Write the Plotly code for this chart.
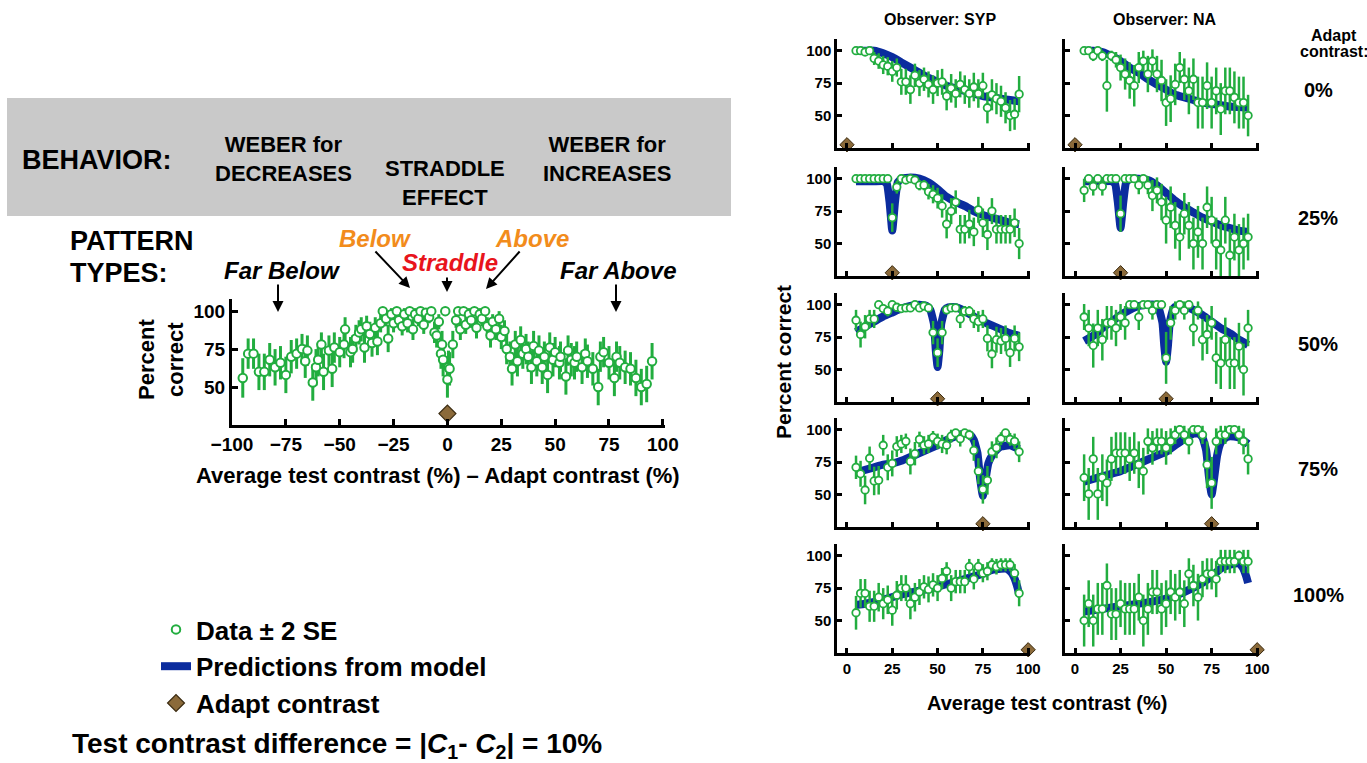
import plotly.graph_objects as go

W, H = 1367, 763
GREEN = '#22ad3f'
BLUE = '#0b2c9e'
BROWN = '#8b6a3a'
FONT = 'Liberation Sans'

# ---------------- main panel data (test - adapt contrast) ----------------
main_x = [-95, -92.5, -90, -87.5, -85, -82.5, -80, -77.5, -75, -72.5, -70, -67.5, -66, -65, -62.5, -61, -60,
          -58.5, -57.5, -55, -53.5, -52.5, -50, -48, -47.5, -45, -44, -42.5, -41, -40, -38.5, -37.5, -36, -35,
          -33.5, -32.5, -31, -30, -28.5, -27.5, -26, -25, -23.5, -22.5, -21, -20, -18.5, -17.5, -16, -15, -13.5,
          -12.5, -11, -10, -8.5, -7.5, -6, -5, -4, -3, -2.5, -2, -1, 0, 0.5, 1, 2.5, 4, 5, 6, 7.5, 8.5, 10, 11,
          12.5, 13.5, 15, 16, 17.5, 18.5, 20, 21, 22.5, 24, 25, 26.5, 27.5, 29, 30, 31.5, 32.5, 34, 35, 36.5,
          37.5, 39, 40, 41.5, 42.5, 44, 45, 46.5, 47.5, 49, 50, 52, 52.5, 55, 56, 57.5, 59, 60, 62.5, 64, 65,
          67.5, 70, 71, 72.5, 75, 77.5, 78.5, 80, 82.5, 85, 87.5, 90, 92.5, 95]
main_y = [56, 72, 72, 60, 60, 68, 63, 66, 58, 70, 72, 75, 67, 74, 53, 63, 68,
          78, 60, 74, 62, 76, 73, 78, 88, 73, 75, 82, 86, 88, 76, 90, 85, 79,
          89, 80, 92, 100, 95, 82, 98, 92, 100, 94, 90, 98, 92, 100, 88, 98, 95,
          100, 91, 99, 96, 100, 86, 84, 93, 72, 78, 68, 100, 55, 63, 62, 78, 94, 100, 88, 100, 91, 98, 94,
          100, 89, 98, 95, 100, 90, 84, 93, 88, 95, 83, 87, 75, 70, 62, 78, 67, 81, 72, 75,
          70, 63, 77, 67, 74, 63, 70, 58, 76, 68, 73, 66, 70, 57, 74, 68, 66, 70, 63, 72, 67,
          62, 50, 70, 73, 66, 56, 70, 66, 63, 62, 56, 50, 52, 67]
main_err = [13, 10, 10, 12, 12, 11, 12, 11, 12, 11, 10, 10, 11, 10, 12, 12, 11,
            8, 12, 10, 12, 10, 10, 9, 8, 10, 9, 9, 8, 8, 10, 7, 8, 9,
            7, 9, 6, 2, 5, 9, 4, 6, 2, 5, 6, 4, 6, 2, 7, 4, 5,
            2, 6, 3, 4, 2, 7, 8, 5, 10, 9, 11, 2, 12, 11, 11, 9, 5, 2, 7, 2, 6, 4, 5,
            2, 7, 4, 5, 2, 6, 8, 5, 7, 5, 8, 7, 10, 10, 11, 9, 10, 9, 10, 10,
            10, 11, 10, 10, 10, 11, 10, 12, 10, 11, 10, 11, 10, 12, 10, 11, 11, 10, 11, 10, 11,
            11, 12, 10, 10, 11, 12, 10, 11, 11, 11, 12, 12, 12, 12]
main_adapt = [0]

# ---------------- small panels ----------------
test_contrast = [5, 7.5, 10, 12.5, 15, 17.5, 20, 22.5, 25, 27.5, 30, 32.5, 35, 37.5, 40, 42.5, 45, 47.5, 50,
                 52.5, 55, 57.5, 60, 62.5, 65, 67.5, 70, 72.5, 75, 77.5, 80, 82.5, 85, 87.5, 90, 92.5, 95]
adapt_levels = [0, 25, 50, 75, 100]
adapt_labels = ['0%', '25%', '50%', '75%', '100%']
observers = ['SYP', 'NA']

syp0_y = [100, 100, 99, 100, 94, 92, 89, 88, 84, 87, 76, 76, 70, 81, 75, 78, 74, 70, 75, 76, 65, 71, 67, 74, 70,
          67, 72, 67, 73, 56, 66, 63, 61, 56, 50, 51, 66.5]
syp0_err = [1, 1, 2, 1, 5, 6, 7, 7, 8, 7, 10, 10, 11, 9, 10, 9, 10, 11, 10, 10, 11, 11, 11, 10, 11, 11, 11, 11, 10,
            12, 12, 12, 12, 12, 12, 12, 14]
na0_y = [100, 100, 96, 100, 96, 73, 96, 93, 87, 82, 77, 73, 87, 92, 82, 92, 82, 77, 60, 63, 74, 87, 78, 69, 78,
         60, 60, 73, 60, 69, 55, 69, 69, 64, 60, 60, 50]
na0_err = [1, 1, 4, 1, 4, 20, 4, 6, 10, 12, 14, 16, 12, 8, 14, 9, 14, 16, 18, 18, 16, 12, 16, 18, 16, 20, 20, 18,
           20, 18, 20, 18, 18, 20, 20, 20, 16]
syp25_y = [100, 100, 100, 100, 100, 100, 100, 100, 70, 93.5, 100, 99, 100, 99, 95, 95, 90, 88, 85, 79, 65, 75, 82,
           61, 61, 65, 59, 76, 66, 57, 75, 61, 61, 61, 61, 66, 50]
syp25_err = [1, 1, 1, 1, 1, 1, 1, 1, 11, 5, 1, 2, 1, 2, 4, 4, 6, 7, 8, 9, 11, 10, 9, 11, 11, 11, 11, 10, 11, 12,
             10, 11, 11, 11, 11, 11, 12]
na25_y = [91, 100, 94, 100, 94, 100, 100, 100, 73, 100, 100, 100, 95, 100, 95, 87, 91, 82, 68, 78, 64, 55, 73, 64,
          50, 59, 50, 78, 68, 50, 45, 68, 41, 55, 45, 50, 55]
na25_err = [9, 2, 7, 2, 7, 2, 2, 2, 14, 2, 2, 2, 7, 2, 7, 12, 10, 14, 18, 16, 18, 18, 16, 18, 20, 20, 20, 16, 18,
            20, 20, 18, 20, 18, 20, 20, 18]
syp50_y = [88, 77, 83, 89, 89, 100, 97, 95, 100, 98, 97, 97.5, 97.5, 100, 97.5, 99, 97.5, 78.5, 63, 78.5, 96, 97.5,
           97.5, 89, 95, 95, 89, 87, 89, 74, 62, 73, 72, 74, 63, 74, 67.5]
syp50_err = [8, 10, 9, 7, 7, 1, 3, 4, 1, 2, 3, 2, 2, 1, 2, 1, 2, 9, 11, 9, 3, 2, 2, 7, 4, 4, 7, 8, 7, 10, 11, 10,
             10, 10, 11, 10, 11]
na50_y = [90.5, 82, 68.5, 82, 73, 86, 86, 82, 90.5, 86, 100, 100, 90.5, 100, 100, 95.5, 100, 100, 59, 86, 95.5, 100,
          95.5, 100, 82, 95.5, 73, 77, 86, 59, 55, 73, 55, 55, 68, 50, 82]
na50_err = [10, 14, 17, 14, 16, 13, 13, 14, 10, 13, 2, 2, 10, 2, 2, 7, 2, 2, 20, 13, 7, 2, 7, 2, 14, 7, 16, 15, 13,
            20, 20, 17, 20, 20, 18, 20, 14]
syp75_y = [71, 66, 53.5, 78, 60.5, 61, 88, 71, 74, 87, 89, 91, 75.5, 81.5, 92.5, 88, 89, 94, 91, 89, 88, 95, 97.5,
           93, 97.5, 96, 84, 68, 54, 61, 83, 86, 93, 97.5, 92.5, 91, 83]
syp75_err = [9, 10, 11, 9, 11, 11, 8, 10, 10, 8, 7, 6, 10, 9, 6, 7, 7, 5, 6, 7, 7, 5, 3, 6, 3, 4, 8, 10, 11, 11, 8,
             8, 5, 3, 5, 6, 8]
na75_y = [63, 50.5, 77.5, 50.5, 63, 59, 77.5, 82, 82, 82, 77.5, 82, 73, 68, 91, 86, 91, 91, 86, 91, 96, 100, 96, 91,
          100, 100, 96, 73, 59, 91, 96, 96, 100, 100, 96, 91, 77.5]
na75_err = [18, 20, 17, 20, 18, 18, 17, 16, 16, 16, 17, 16, 18, 18, 10, 13, 10, 10, 13, 10, 7, 2, 7, 10, 2, 2, 7,
            18, 20, 10, 7, 7, 2, 2, 7, 10, 12]
syp100_y = [56, 71, 71, 61, 61, 68, 63, 66, 58, 69.5, 75, 75, 63, 68, 72, 76, 74, 77.5, 75, 82.5, 88, 75, 80, 80,
            80, 91.5, 82, 91.5, 86.5, 88, 93, 91.5, 93, 93, 93, 86.5, 71]
syp100_err = [13, 11, 11, 12, 12, 11, 12, 11, 12, 11, 10, 10, 12, 11, 10, 9, 10, 9, 10, 8, 7, 10, 9, 9, 9, 6, 8, 6,
              7, 7, 5, 6, 5, 5, 5, 7, 10]
na100_y = [50, 63, 50, 59, 59, 77, 55, 55, 63, 59, 59, 59, 68, 50, 59, 72, 72, 59, 63, 72, 68, 72, 63, 86, 77, 68,
           82, 86, 86, 82, 95.5, 95.5, 95.5, 95.5, 100, 95.5, 95.5]
na100_err = [20, 18, 20, 20, 20, 17, 20, 20, 18, 20, 20, 20, 18, 20, 20, 17, 17, 20, 18, 17, 18, 17, 18, 12, 16,
             18, 14, 12, 12, 14, 9, 9, 9, 9, 4, 9, 9]

# model predictions
pred0_x = [5, 10, 15, 20, 25, 30, 35, 40, 45, 50, 55, 60, 65, 70, 75, 80, 85, 90, 95]
syp0_pred = [100, 100, 100, 98, 95, 91, 87, 83, 79, 76, 73, 71, 69, 67, 65, 64, 63, 62, 61]
na0_pred = [100, 100, 99, 96, 92, 87, 83, 78, 74, 70, 66, 64, 62, 60, 59, 58, 57, 56.5, 56]
pred25_x = [5, 10, 15, 20, 22, 23.5, 25, 26.5, 28, 30, 35, 40, 45, 50, 55, 60, 65, 70, 75, 80, 85, 90, 95]
syp25_pred = [98, 98, 98, 98, 96, 82, 60, 82, 97, 100, 101, 100, 97, 92, 86, 82, 79, 75, 72, 70, 68, 66, 65]
na25_pred = [98, 98, 98, 98, 96, 82, 62, 82, 97, 100, 100, 99, 95, 89, 83, 78, 74, 70, 67, 64, 62, 60, 59]
pred50_x = [5, 10, 15, 20, 25, 30, 35, 40, 44, 46, 48, 49, 50, 51, 52, 54, 56, 60, 65, 70, 75, 80, 85, 90, 95]
syp50_pred = [79, 83, 87, 91, 94, 97, 99, 100, 99, 96, 85, 65, 52, 65, 85, 96, 98, 98, 95, 91, 87, 84, 81, 78, 76]
na50_pred = [72, 76, 82, 87, 92, 96, 99, 100, 100, 97, 86, 68, 56, 68, 86, 97, 99, 99, 96, 92, 87, 82, 78, 73, 69]
pred75_x = [5, 10, 15, 20, 25, 30, 35, 40, 45, 50, 55, 60, 65, 68, 70, 72, 73.5, 75, 76.5, 78, 80, 83, 85, 90, 95]
syp75_pred = [67, 69, 71, 73, 74, 76, 79, 82, 85, 88, 92, 95, 97, 96, 92, 82, 62, 49, 62, 74, 80, 85, 87, 88, 85]
na75_pred = [60, 62, 64, 66, 68, 71, 74, 77, 80, 83, 88, 93, 97, 97, 94, 84, 64, 50, 64, 80, 90, 94, 95, 94, 89]
pred100_x = [5, 10, 20, 30, 40, 50, 60, 70, 75, 80, 85, 88, 90, 92, 94, 95]
syp100_pred = [62, 63, 66, 70, 73, 76, 80, 84, 86, 89, 90, 90, 88, 84, 76, 70]
na100_pred = [57, 58, 60, 62, 64, 67, 72, 79, 84, 90, 93, 94, 94, 91, 84, 79]

data_y = {('SYP', 0): syp0_y, ('NA', 0): na0_y, ('SYP', 1): syp25_y, ('NA', 1): na25_y,
          ('SYP', 2): syp50_y, ('NA', 2): na50_y, ('SYP', 3): syp75_y, ('NA', 3): na75_y,
          ('SYP', 4): syp100_y, ('NA', 4): na100_y}
data_err = {('SYP', 0): syp0_err, ('NA', 0): na0_err, ('SYP', 1): syp25_err, ('NA', 1): na25_err,
            ('SYP', 2): syp50_err, ('NA', 2): na50_err, ('SYP', 3): syp75_err, ('NA', 3): na75_err,
            ('SYP', 4): syp100_err, ('NA', 4): na100_err}
pred_x = [pred0_x, pred25_x, pred50_x, pred75_x, pred100_x]
pred_y = {('SYP', 0): syp0_pred, ('NA', 0): na0_pred, ('SYP', 1): syp25_pred, ('NA', 1): na25_pred,
          ('SYP', 2): syp50_pred, ('NA', 2): na50_pred, ('SYP', 3): syp75_pred, ('NA', 3): na75_pred,
          ('SYP', 4): syp100_pred, ('NA', 4): na100_pred}


def xd(a, b):
    return [a / W, b / W]


def yd(top, bottom):
    return [1 - bottom / H, 1 - top / H]


def px(x):
    return x / W


def py(y):
    return 1 - y / H


fig = go.Figure()
tickfont_main = dict(family=FONT, size=19, color='black', weight='bold')
tickfont_small = dict(family=FONT, size=15, color='black', weight='bold')

# main panel
fig.add_trace(go.Scatter(
    x=main_x, y=main_y, mode='markers', name='Data ± 2 SE', legendgroup='a', legendrank=1,
    error_y=dict(type='data', array=main_err, color=GREEN, thickness=3, width=0),
    marker=dict(symbol='circle', size=8.5, color='white', line=dict(color=GREEN, width=2)),
    xaxis='x', yaxis='y', cliponaxis=False))
fig.add_trace(go.Scatter(
    x=main_adapt, y=[32.5], mode='markers', name='Adapt contrast', legendgroup='c', legendrank=3,
    marker=dict(symbol='diamond', size=13, color=BROWN, line=dict(color='#3a2a10', width=1.2)),
    xaxis='x', yaxis='y', cliponaxis=False))

common = dict(showline=True, linecolor='black', ticks='inside', tickcolor='black', showgrid=False,
              zeroline=False, automargin=False)
layout_axes = {}
layout_axes['xaxis'] = dict(domain=xd(232, 665), range=[-100, 101], anchor='y', linewidth=3, ticklen=6,
                            tickwidth=3, tickvals=[-100, -75, -50, -25, 0, 25, 50, 75, 100],
                            tickfont=tickfont_main, **common)
layout_axes['yaxis'] = dict(domain=yd(299, 425), range=[25, 108], anchor='x', linewidth=3, ticklen=6,
                            tickwidth=3, tickvals=[50, 75, 100], tickfont=tickfont_main, **common)

col_px = {'SYP': (837, 1030), 'NA': (1065, 1259)}
row_bottom = [148, 276, 402, 527, 653]
pred_legend_done = False
k = 2
for r in range(5):
    for obs in observers:
        xa, ya = 'x%d' % k, 'y%d' % k
        key = (obs, r)
        fig.add_trace(go.Scatter(
            x=pred_x[r], y=pred_y[key], mode='lines', line=dict(color=BLUE, width=8, shape='spline', smoothing=0.4),
            name='Predictions from model', legendgroup='b', legendrank=2, showlegend=not pred_legend_done,
            xaxis=xa, yaxis=ya))
        pred_legend_done = True
        fig.add_trace(go.Scatter(
            x=test_contrast, y=data_y[key], mode='markers', showlegend=False,
            error_y=dict(type='data', array=data_err[key], color=GREEN, thickness=2.5, width=0),
            marker=dict(symbol='circle', size=7.5, color='white', line=dict(color=GREEN, width=1.8)),
            xaxis=xa, yaxis=ya, cliponaxis=False))
        fig.add_trace(go.Scatter(
            x=[adapt_levels[r]], y=[27.5], mode='markers', showlegend=False,
            marker=dict(symbol='diamond', size=11, color=BROWN, line=dict(color='#3a2a10', width=1)),
            xaxis=xa, yaxis=ya, cliponaxis=False))
        c0, c1 = col_px[obs]
        b = row_bottom[r]
        layout_axes['xaxis%d' % k] = dict(domain=xd(c0, c1), range=[-5.5, 101], anchor=ya, linewidth=2.5,
                                          ticklen=5, tickwidth=2.5, tickvals=[0, 25, 50, 75, 100],
                                          showticklabels=(r == 4), tickfont=tickfont_small, **common)
        layout_axes['yaxis%d' % k] = dict(domain=yd(b - 109, b), range=[25, 109], anchor=xa, linewidth=2.5,
                                          ticklen=5, tickwidth=2.5, tickvals=[50, 75, 100],
                                          showticklabels=(obs == 'SYP'), tickfont=tickfont_small, **common)
        k += 1


def ann(text, x, y, size, xanchor='center', yanchor='middle', color='black', italic=False, align='center',
        angle=0):
    return dict(text=text, x=px(x), y=py(y), xref='paper', yref='paper', xanchor=xanchor, yanchor=yanchor,
                showarrow=False, align=align, textangle=angle,
                font=dict(family=FONT, size=size, color=color, weight='bold',
                          style='italic' if italic else 'normal'))


def arrow(hx, hy, tx, ty):
    return dict(text='', x=px(hx), y=py(hy), xref='paper', yref='paper', ax=tx - hx, ay=ty - hy,
                axref='pixel', ayref='pixel', showarrow=True, arrowhead=2, arrowsize=1.1, arrowwidth=2,
                arrowcolor='black')


ORANGE = '#f28c1c'
RED = '#e8141c'
annotations = [
    ann('BEHAVIOR:', 97, 160, 27),
    ann('WEBER for<br>DECREASES', 283, 159, 22),
    ann('STRADDLE<br>EFFECT', 445, 183, 22),
    ann('WEBER for<br>INCREASES', 607, 159, 22),
    ann('PATTERN', 68, 241, 27, xanchor='left'),
    ann('TYPES:', 68, 273, 27, xanchor='left'),
    ann('Far Below', 282, 270, 24, italic=True),
    ann('Below', 375, 238, 24, italic=True, color=ORANGE),
    ann('Straddle', 450, 262, 24, italic=True, color=RED),
    ann('Above', 532, 238, 24, italic=True, color=ORANGE),
    ann('Far Above', 618, 270, 24, italic=True),
    arrow(278, 312, 278, 283), arrow(410, 288, 374, 250), arrow(447, 292, 447, 276),
    arrow(486, 289, 521, 250), arrow(616, 312, 616, 283),
    ann('Percent<br>correct', 161, 360, 22, angle=-90),
    ann('Average test contrast (%) – Adapt contrast (%)', 438, 475, 22),
    ann('Observer: SYP', 940, 19, 16),
    ann('Observer: NA', 1165, 19, 16),
    ann('Adapt', 1334, 36, 16),
    ann('contrast:', 1334, 51, 16),
    ann('Percent correct', 783, 362, 21, angle=-90),
    ann('Average test contrast (%)', 1047, 703, 20),
    ann('Test contrast difference = |<i>C</i><sub>1</sub>- <i>C</i><sub>2</sub>| = 10%', 70, 745, 28,
        xanchor='left'),
]
for r, lab in enumerate(adapt_labels):
    annotations.append(ann(lab, 1318, row_bottom[r] - 58, 20))

fig.update_layout(
    width=W, height=H, margin=dict(l=0, r=0, t=0, b=0, autoexpand=False),
    paper_bgcolor='white', plot_bgcolor='rgba(0,0,0,0)',
    font=dict(family=FONT, color='black'),
    showlegend=True,
    legend=dict(x=px(156), y=py(606), xanchor='left', yanchor='top', bgcolor='rgba(0,0,0,0)',
                font=dict(family=FONT, size=26, color='black', weight='bold'), tracegroupgap=0,
                itemwidth=30, traceorder='normal'),
    shapes=[dict(type='rect', xref='paper', yref='paper', x0=px(7), x1=px(731), y0=py(216), y1=py(98),
                 fillcolor='#c9c9c9', line=dict(width=0), layer='below')],
    annotations=annotations,
    **layout_axes)

fig.write_html("out.html", post_script="document.body.style.margin='0';",
               config={'displayModeBar': False})
